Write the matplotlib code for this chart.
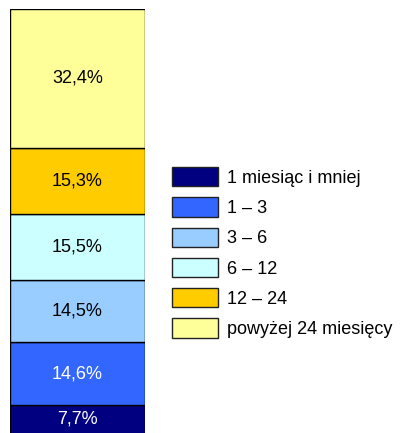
"""Struktura bezrobotnych wg czasu pozostawania bez pracy."""
import matplotlib
matplotlib.use("Agg")
import matplotlib.pyplot as plt
from matplotlib.patches import Patch

# %%
# data (bottom -> top)
categories = ["1 miesiąc i mniej", "1 – 3", "3 – 6", "6 – 12", "12 – 24", "powyżej 24 miesięcy"]
values = [7.7, 14.6, 14.5, 15.5, 15.3, 32.4]
labels = ["7,7%", "14,6%", "14,5%", "15,5%", "15,3%", "32,4%"]
colors = ["#000080", "#3366FF", "#99CCFF", "#CCFFFF", "#FFCC00", "#FFFF99"]
text_colors = ["white", "white", "black", "black", "black", "black"]

plt.rcParams["font.family"] = ["Liberation Sans", "DejaVu Sans"]

W, H = 402, 433
fig = plt.figure(figsize=(W / 100, H / 100), dpi=100)

# axes spans x 10..145 px, y top 9 px down to bottom of image
px_per = 4.29
top_px = 9
ax = fig.add_axes([10 / W, 0, 135 / W, (H - top_px) / H])
ax.set_xlim(0, 1)
ax.set_ylim(100 - (H - top_px) / px_per, 100)
ax.axis("off")

bottom = 0
for v, c, lab, tc in zip(values, colors, labels, text_colors):
    ax.bar(0.5, v, width=1.0, bottom=bottom, color=c, edgecolor="black", linewidth=1.0)
    ymid = bottom + v / 2
    if bottom < ax.get_ylim()[0] + 1:
        ymid = (ax.get_ylim()[0] + bottom + v) / 2
    ax.text(0.5, ymid, lab, ha="center", va="center", fontsize=13, color=tc)
    bottom += v

handles = [Patch(facecolor=c, edgecolor="#222222", linewidth=1.0) for c in colors]
fig.legend(handles, categories, loc="upper left", bbox_to_anchor=(172 / W, 1 - 167 / H),
           frameon=False, fontsize=13, handlelength=2.55, handleheight=1.28,
           labelspacing=0.58, handletextpad=0.5, borderpad=0, borderaxespad=0)

fig.savefig("out.png", dpi=100)
